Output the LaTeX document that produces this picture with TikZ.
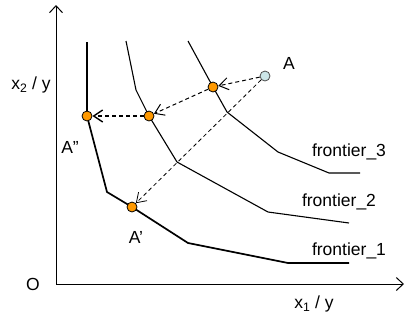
\documentclass[tikz,border=0pt]{standalone}
\usepackage{fontspec}
\setmainfont{Liberation Sans}
\usetikzlibrary{arrows.meta, positioning}
\definecolor{dotOrange}{HTML}{FF9900}
\definecolor{dotBlue}{HTML}{CCE6E8}

\begin{document}
\begin{tikzpicture}[x=1pt, y=-1pt, font=\fontsize{17.5}{20}\selectfont,
    dot/.style={circle, draw=black, fill=dotOrange, line width=0.8pt, inner sep=0pt, minimum size=10pt},
    move/.style={dash pattern=on 4pt off 3pt, -{Straight Barb[length=9pt, width=12pt]}},
    frontier/.style={line width=1.1pt, line join=round}]
    \useasboundingbox (0,0) rectangle (406,325);
    % axes
    \coordinate (o) at (56,284);
    \coordinate (ytop) at (56,5);
    \coordinate (xend) at (404,284);
    \draw[line width=1pt, -{Straight Barb[length=7pt, width=13pt]}] (o) -- (ytop);
    \draw[line width=1pt, -{Straight Barb[length=7pt, width=13pt]}] (o) -- (xend);
    \node (olabel) at (33,284) {O};
    \node (ylabel) at (31,85) {x\textsubscript{2} / y};
    \node (xlabel) at (314,304) {x\textsubscript{1} / y};
    % frontiers
    \draw[frontier, line width=1.7pt] (87,42) -- (87,116) -- (107,192) -- (132,207)
      -- (188,243) -- (288,263) -- (349,263);
    \draw[frontier] (126,41) -- (136,90) -- (149,116) -- (177,162) -- (268,212) -- (349,223);
    \draw[frontier] (188,41) -- (213,87) -- (227,112) -- (278,152) -- (329,173) -- (360,173);
    \node (f3) at (349,152) {frontier\_3};
    \node (f2) at (339,202) {frontier\_2};
    \node (f1) at (349,251) {frontier\_1};
    % points
    \node[dot] (a2) at (87,116) {};
    \node[dot] (p2) at (149,116) {};
    \node[dot] (p3) at (213,87) {};
    \node[dot] (a1) at (132,207) {};
    \node[dot, fill=dotBlue, draw=black!70] (a) at (265,76) {};
    \node (alabel) at (289,63) {A};
    \node (a2label) at (70,147) {A''};
    \node (a1label) at (136,237) {A'};
    % projections
    \draw[move, line width=1pt] (a) -- (p3);
    \draw[move, line width=1pt] (p3) -- (p2);
    \draw[move, line width=1.4pt] (p2) -- (a2);
    \draw[move, line width=0.8pt] (a) -- (a1);
\end{tikzpicture}
\end{document}
